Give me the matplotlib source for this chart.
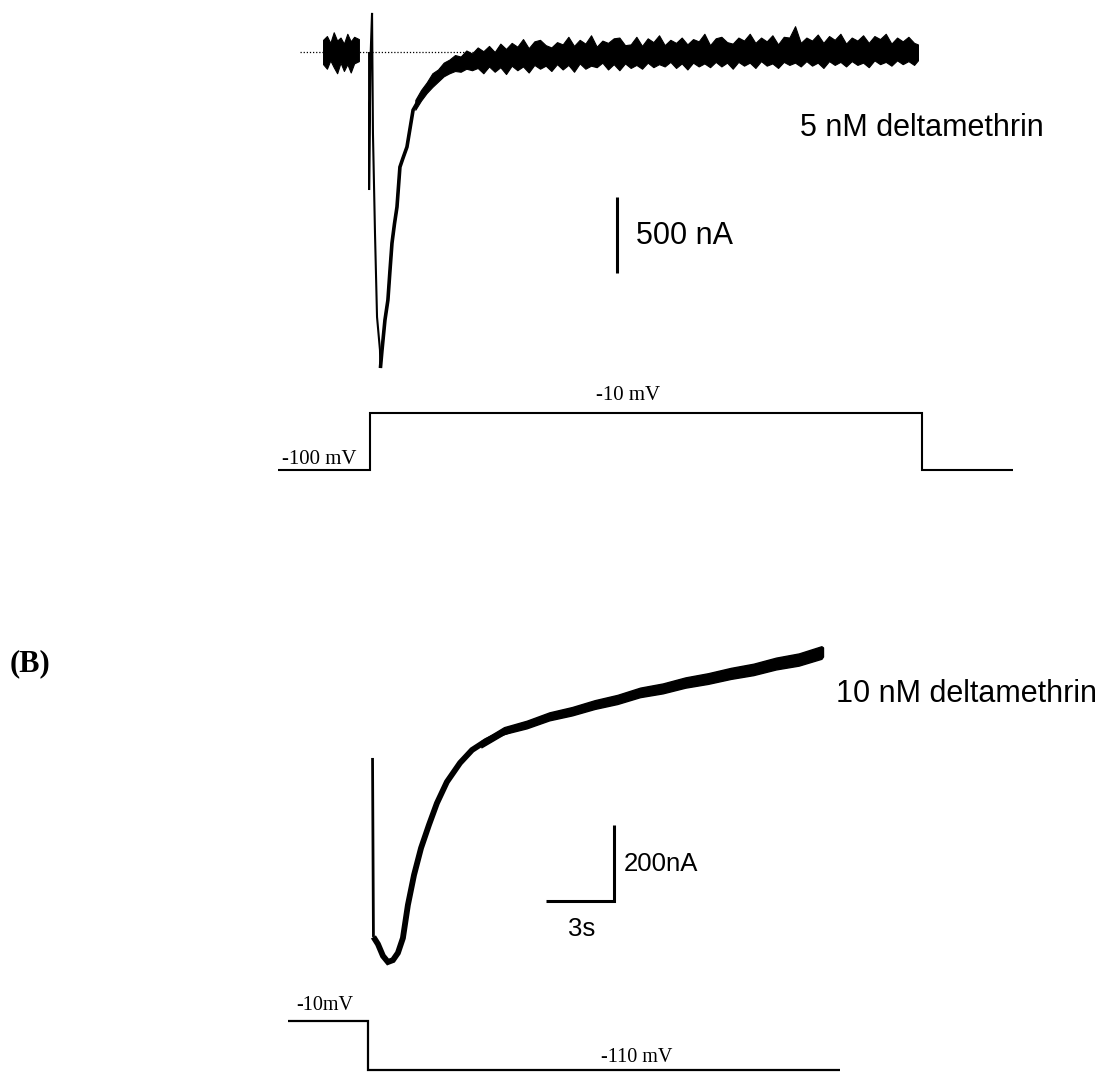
import numpy as np
import matplotlib
matplotlib.use('Agg')
import matplotlib.pyplot as plt

# ---- panel A: 5 nM deltamethrin, current (nA) vs time (s)
a_pre_t = [-2.07, -1.9, -1.75, -1.6, -1.45, -1.3, -1.15, -1.0, -0.85, -0.7, -0.49]
a_pre_hi = [80, 105, 60, 130, 75, 95, 55, 120, 70, 100, 85]
a_pre_lo = [-80, -110, -55, -100, -140, -70, -125, -80, -135, -75, -60]

a_t = [-0.04, -0.04, 0.02, 0.09, 0.13, 0.22, 0.31, 0.44, 0.46, 0.53, 0.66,
       0.79, 0.88, 0.97, 1.08, 1.19, 1.32, 1.45, 1.63, 1.90, 2.10]
a_i = [0, -908, -53, 257, -533, -1191, -1743, -1961, -2079, -1961, -1763,
       -1632, -1440, -1257, -1130, -1020, -757, -700, -625, -382, -330]

# noisy plateau: upper and lower edge of the trace (nA)
a_band_t = [2.0, 2.25, 2.5, 2.75, 3.0, 3.25, 3.5, 3.75, 4.0, 4.25, 4.5, 4.75,
            5.0, 5.25, 5.5, 5.75, 6.0, 6.25, 6.5, 6.75, 7.0, 7.25, 7.5, 7.75,
            8.0, 8.25, 8.5, 8.75, 9.0, 9.25, 9.5, 9.75, 10.0, 10.25, 10.5,
            10.75, 11.0, 11.25, 11.5, 11.75, 12.0, 12.25, 12.5, 12.75, 13.0,
            13.25, 13.5, 13.75, 14.0, 14.25, 14.5, 14.75, 15.0, 15.25, 15.5,
            15.75, 16.0, 16.25, 16.5, 16.75, 17.0, 17.25, 17.5, 17.75, 18.0,
            18.25, 18.5, 18.75, 19.0, 19.25, 19.5, 19.75, 20.0, 20.25, 20.5,
            20.75, 21.0, 21.25, 21.5, 21.75, 22.0, 22.25, 22.5, 22.75, 23.0,
            23.25, 23.5, 23.75, 24.0, 24.17]
a_band_top = [-315, -250, -200, -140, -115, -70, -50, -20, -30, 10, -10, 30,
              5, 40, 0, 55, 20, 60, 35, 85, 25, 70, 80, 45, 30, 65, 50, 100,
              40, 80, 55, 110, 35, 75, 60, 90, 95, 45, 50, 100, 40, 90, 65,
              110, 45, 80, 60, 95, 50, 85, 70, 120, 45, 90, 100, 65, 55, 95,
              75, 120, 60, 95, 70, 110, 50, 100, 95, 170, 60, 95, 75, 115, 60,
              105, 80, 120, 55, 95, 75, 110, 60, 105, 85, 120, 55, 95, 70, 100,
              60, 50]
a_band_bot = [-380, -320, -270, -230, -195, -160, -140, -125, -130, -110, -120,
              -105, -140, -95, -130, -100, -145, -90, -120, -95, -135, -85,
              -110, -90, -125, -80, -115, -85, -130, -75, -110, -90, -100, -70,
              -115, -80, -120, -75, -105, -85, -110, -70, -100, -80, -95, -65,
              -105, -75, -115, -70, -95, -75, -100, -65, -95, -70, -110, -65,
              -90, -70, -105, -60, -90, -75, -105, -65, -85, -70, -95, -60,
              -90, -70, -105, -60, -85, -65, -95, -60, -85, -70, -100, -55,
              -80, -65, -90, -55, -80, -60, -85, -55]

a_bar_t, a_bar_top, a_bar_len = 10.90, -954, 500
a_volt_t = [-4.06, 0.0, 0.0, 24.35, 24.35, 28.36]
a_volt_mv = [-100, -100, -10, -10, -100, -100]

# ---- panel B: 10 nM deltamethrin
b_t = [0.20, 0.24, 0.44, 0.66, 0.88, 1.10, 1.32, 1.54, 1.76, 2.03, 2.34, 2.69,
       3.04, 3.48, 4.06, 4.59, 5.21, 5.82, 6.62, 8.29, 10.01, 11.69, 13.37,
       15.09, 16.76, 18.44, 20.07]
b_i = [-442, -913, -932, -963, -979, -974, -955, -916, -829, -750, -679, -618,
       -561, -505, -455, -421, -397, -379, -361, -329, -303, -276, -255, -232,
       -211, -189, -163]

b_band_t = [5, 6, 7, 8, 9, 10, 11, 12, 13, 14, 15, 16, 17, 18, 19, 20, 20.07]
b_band_mid = [-405, -371, -353, -334, -318, -303, -287, -271, -258, -245, -232,
              -221, -208, -195, -182, -166, -163]
b_band_up = [8, 10, 9, 12, 10, 13, 11, 14, 12, 15, 13, 16, 14, 17, 15, 18, 12]
b_band_dn = [9, 8, 11, 9, 12, 10, 13, 11, 14, 12, 15, 13, 16, 14, 17, 15, 12]

b_vbar_t, b_bar_bottom, b_vbar_len, b_hbar_len = 10.85, -818, 200, 3
b_volt_t = [-3.53, 0.0, 0.0, 20.82]
b_volt_mv = [-10, -10, -110, -110]

W, H = 1115, 1072
fig = plt.figure(figsize=(W / 100, H / 100), dpi=100)
fig.patch.set_facecolor('white')


def px_axes(left, top, right, bottom, x0, xs, y0, ys):
    # axes placed in pixel space; x0/y0 = pixel of value 0, xs/ys = px per unit
    ax = fig.add_axes([left / W, 1 - bottom / H, (right - left) / W, (bottom - top) / H])
    ax.set_xlim((left - x0) / xs, (right - x0) / xs)
    ax.set_ylim((y0 - bottom) / ys, (y0 - top) / ys)
    ax.axis('off')
    return ax


def ftext(x, y, s, **kw):
    fig.text(x / W, 1 - y / H, s, **kw)


PX_S = 22.67
k = dict(color='black', clip_on=False, solid_capstyle='butt', solid_joinstyle='miter')

# panel A current
ax = px_axes(250, 0, 1115, 390, 370, PX_S, 52, 0.152)
ax.plot([-3.09, 24.0], [0, 0], color='black', ls=(0, (1, 1.5)), lw=0.9, clip_on=False, zorder=1)
ax.fill_between(a_pre_t, a_pre_lo, a_pre_hi, color='black', lw=0.8, clip_on=False, zorder=2)
ax.plot(a_t, a_i, lw=1.5, zorder=3, **k)
ax.plot(a_t[8:], a_i[8:], lw=2.6, zorder=3, **k)
ax.fill_between(a_band_t, a_band_bot, a_band_top, color='black', lw=0.8,
                clip_on=False, zorder=3)
ax.plot([a_bar_t, a_bar_t], [a_bar_top, a_bar_top - a_bar_len], lw=2.2, **k)

# panel A voltage
axv = px_axes(250, 380, 1115, 500, 370, PX_S, 406.67, 57 / 90)
axv.plot(a_volt_t, a_volt_mv, lw=1.5, **k)

# panel B current
axb = px_axes(250, 560, 1115, 1000, 368, PX_S, 590, 0.38)
axb.plot(b_t[:2], b_i[:2], lw=2.0, **k)
axb.plot(b_t[1:], b_i[1:], lw=4.2, **k)
lo = np.array(b_band_mid) - np.array(b_band_dn)
hi = np.array(b_band_mid) + np.array(b_band_up)
axb.fill_between(b_band_t, lo, hi, color='black', lw=1.0, clip_on=False)
axb.plot([b_vbar_t - b_hbar_len, b_vbar_t, b_vbar_t],
         [b_bar_bottom, b_bar_bottom, b_bar_bottom + b_vbar_len], lw=2.2, **k)

# panel B voltage
axbv = px_axes(250, 990, 1115, 1072, 368, PX_S, 1016.1, 0.49)
axbv.plot(b_volt_t, b_volt_mv, lw=1.6, **k)

sans = ['Liberation Sans', 'DejaVu Sans']
serif = ['Liberation Serif', 'DejaVu Serif']
ftext(922, 128, '5 nM deltamethrin', family=sans, fontsize=22, ha='center', va='center')
ftext(636, 236, '500 nA', family=sans, fontsize=22, ha='left', va='center')
ftext(967, 694, '10 nM deltamethrin', family=sans, fontsize=22, ha='center', va='center')
ftext(624, 864, '200nA', family=sans, fontsize=18.5, ha='left', va='center')
ftext(582, 929, '3s', family=sans, fontsize=18.5, ha='center', va='center')
ftext(30, 664, '(B)', family=serif, fontsize=22, fontweight='bold', ha='center', va='center')
ftext(628, 396, '-10 mV', family=serif, fontsize=15, ha='center', va='center')
ftext(319, 459, '-100 mV', family=serif, fontsize=15, ha='center', va='center')
ftext(325, 1005, '-10mV', family=serif, fontsize=14.5, ha='center', va='center')
ftext(637, 1058, '-110 mV', family=serif, fontsize=14.5, ha='center', va='center')

fig.savefig('out.png', dpi=100, facecolor='white')
